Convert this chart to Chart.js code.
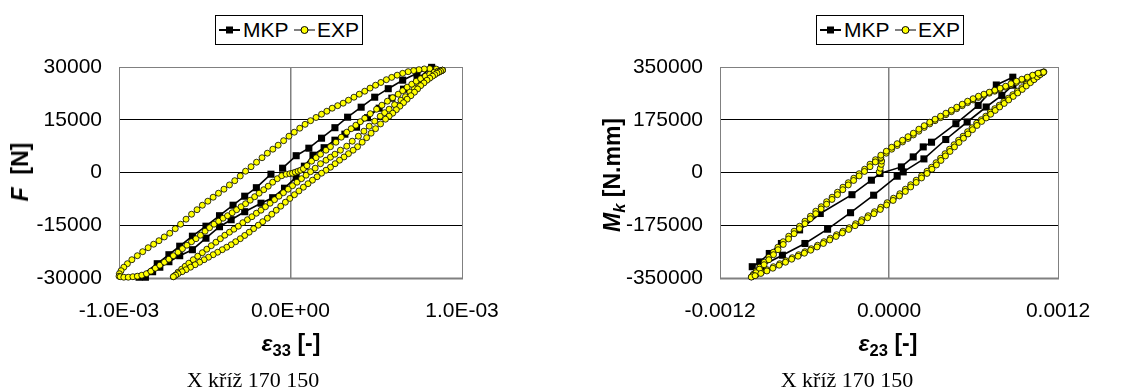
<!DOCTYPE html>
<html><head><meta charset="utf-8">
<script src="https://cdn.jsdelivr.net/npm/chart.js@4/dist/chart.umd.min.js"></script>
<style>
html,body{margin:0;padding:0;background:#fff;}
#wrap{position:relative;width:1148px;height:390px;overflow:hidden;font-family:"Liberation Sans",Arial,sans-serif;color:#000;}
canvas{position:absolute;top:0;}
.legend{position:absolute;top:15px;height:30px;border:1px solid #000;box-sizing:border-box;background:#fff;}
.legend svg{position:absolute;top:0;}
.legend span{position:absolute;top:0;line-height:28px;font-size:21px;white-space:nowrap;}
.ttl{position:absolute;font-weight:bold;font-size:23px;white-space:nowrap;line-height:26px;}
.ttl sub{font-size:0.72em;vertical-align:-0.28em;line-height:0;}
.ytl{transform:translate(-50%,-50%) rotate(-90deg);}
.xtl{transform:translate(-50%,-50%);}
.cap{position:absolute;top:369px;font-family:"Liberation Serif","Times New Roman",serif;font-size:22px;line-height:22px;white-space:nowrap;transform:translateX(-50%);}
</style></head>
<body>
<div id="wrap">
<canvas id="cL" width="574" height="390" style="left:0;width:574px;height:390px"></canvas>
<canvas id="cR" width="574" height="390" style="left:574px;width:574px;height:390px"></canvas>

<div class="legend" style="left:215px;width:148px">
 <svg width="22" height="28" style="left:3px"><line x1="0" y1="14" x2="21" y2="14" stroke="#000" stroke-width="2"/><rect x="7" y="10.5" width="7" height="7" fill="#000"/></svg>
 <span style="left:27px">MKP</span>
 <svg width="22" height="28" style="left:78px"><line x1="0" y1="14" x2="21" y2="14" stroke="#000" stroke-width="1"/><circle cx="10.5" cy="14" r="3.5" fill="#ffff00" stroke="#000" stroke-width="1"/></svg>
 <span style="left:101px">EXP</span>
</div>
<div class="legend" style="left:816px;width:148px">
 <svg width="22" height="28" style="left:3px"><line x1="0" y1="14" x2="21" y2="14" stroke="#000" stroke-width="2"/><rect x="7" y="10.5" width="7" height="7" fill="#000"/></svg>
 <span style="left:27px">MKP</span>
 <svg width="22" height="28" style="left:78px"><line x1="0" y1="14" x2="21" y2="14" stroke="#000" stroke-width="1"/><circle cx="10.5" cy="14" r="3.5" fill="#ffff00" stroke="#000" stroke-width="1"/></svg>
 <span style="left:101px">EXP</span>
</div>

<div class="ttl ytl" style="left:20px;top:172px"><i>F</i>&nbsp; [N]</div>
<div class="ttl ytl" style="left:612px;top:175px"><i>M<sub>k</sub></i> [N.mm]</div>
<div class="ttl xtl" style="left:291px;top:343px"><i>ε</i><sub>33</sub> [-]</div>
<div class="ttl xtl" style="left:888px;top:343px"><i>ε</i><sub>23</sub> [-]</div>
<div class="cap" style="left:253px">X kříž 170 150</div>
<div class="cap" style="left:847px">X kříž 170 150</div>
</div>

<script>
// ---------------- LEFT CHART DATA : strain eps33 [-], force F [N] ----------------
const leftXTicks = [-1e-3, 0, 1e-3];
const leftYTicks = [-30000, -15000, 0, 15000, 30000];

// EXP: loading from lower tip along inner lower line to the top
const leftExpRiseInner = [[-683e-6,-29634],[-671e-6,-29208],[-656e-6,-28355],[-635e-6,-27501],[-614e-6,-26648],[-593e-6,-25795],[-567e-6,-24800],[-541e-6,-23804],[-514e-6,-22809],[-488e-6,-21813],[-462e-6,-20818],[-435e-6,-19823],[-409e-6,-18827],[-383e-6,-17832],[-356e-6,-16979],[-330e-6,-16125],[-304e-6,-15272],[-278e-6,-14277],[-251e-6,-13424],[-225e-6,-12570],[-199e-6,-11575],[-172e-6,-10722],[-146e-6,-9727],[-119e-6,-8731],[-93e-6,-7736],[-67e-6,-6740],[-41e-6,-5745],[-14e-6,-4749],[12e-6,-3754],[38e-6,-2759],[64e-6,-1763],[91e-6,-768],[117e-6,228],[144e-6,1223],[175e-6,2503],[207e-6,3498],[233e-6,4351],[259e-6,5205],[291e-6,6342],[328e-6,7480],[360e-6,8902],[396e-6,10324],[428e-6,11746],[459e-6,13168],[491e-6,14590],[523e-6,16012],[549e-6,17007],[575e-6,18003],[607e-6,19282],[644e-6,20562],[670e-6,21557],[696e-6,22900],[723e-6,23900],[749e-6,24900],[775e-6,25900],[796e-6,26700],[817e-6,27300],[838e-6,27900],[854e-6,28350],[870e-6,28700],[881e-6,28952]];
// EXP: unloading along the outer upper branch down to the left tip
const leftExpUnload = [[886e-6,29094],[850e-6,29400],[812e-6,29521],[780e-6,29450],[749e-6,29236],[718e-6,28980],[686e-6,28668],[654e-6,28200],[622e-6,27672],[590e-6,27050],[559e-6,26392],[527e-6,25600],[496e-6,24828],[464e-6,24000],[433e-6,23122],[401e-6,22270],[370e-6,21415],[338e-6,20560],[307e-6,19709],[275e-6,19000],[243e-6,18287],[212e-6,17430],[181e-6,16581],[149e-6,15650],[117e-6,14732],[85e-6,13700],[54e-6,12599],[22e-6,11460],[-9e-6,10324],[-40e-6,9050],[-72e-6,7764],[-103e-6,6630],[-135e-6,5489],[-166e-6,4200],[-198e-6,2929],[-230e-6,1650],[-262e-6,370],[-293e-6,-980],[-325e-6,-2332],[-356e-6,-3540],[-388e-6,-4749],[-420e-6,-5890],[-451e-6,-7025],[-482e-6,-8160],[-514e-6,-9300],[-545e-6,-10580],[-577e-6,-11859],[-609e-6,-13280],[-641e-6,-14703],[-672e-6,-15980],[-704e-6,-17263],[-736e-6,-18330],[-767e-6,-19396],[-798e-6,-20390],[-830e-6,-21387],[-862e-6,-22520],[-893e-6,-23662],[-925e-6,-24800],[-951e-6,-25937],[-972e-6,-26933],[-988e-6,-27928],[-998e-6,-28781],[-1000e-6,-29492]];
// EXP: reloading from the left tip along inner upper line to the top
const leftExpRiseOuter = [[-993e-6,-29634],[-972e-6,-29776],[-946e-6,-29776],[-919e-6,-29634],[-893e-6,-29492],[-867e-6,-29208],[-840e-6,-28781],[-814e-6,-28070],[-788e-6,-27217],[-762e-6,-26364],[-735e-6,-25510],[-709e-6,-24657],[-683e-6,-23662],[-656e-6,-22667],[-630e-6,-21671],[-604e-6,-20676],[-577e-6,-19680],[-551e-6,-18827],[-525e-6,-17832],[-498e-6,-16694],[-472e-6,-15699],[-446e-6,-14703],[-419e-6,-13850],[-393e-6,-12997],[-367e-6,-12286],[-340e-6,-11433],[-314e-6,-10580],[-288e-6,-9727],[-262e-6,-8873],[-235e-6,-7878],[-209e-6,-6883],[-183e-6,-5887],[-156e-6,-4892],[-130e-6,-3896],[-104e-6,-2759],[-77e-6,-1763],[-51e-6,-910],[-25e-6,-483],[-4e-6,-341],[12e-6,-199],[28e-6,85],[44e-6,370],[59e-6,654],[75e-6,1081],[96e-6,1934],[123e-6,3214],[149e-6,4209],[175e-6,5205],[207e-6,6342],[233e-6,7338],[265e-6,8617],[296e-6,10039],[328e-6,11461],[354e-6,12457],[381e-6,13452],[407e-6,14447],[433e-6,15443],[465e-6,16723],[502e-6,18003],[533e-6,19140],[565e-6,20278],[596e-6,21273],[628e-6,22268],[654e-6,23264],[680e-6,24259],[707e-6,25112],[733e-6,25965],[759e-6,26676],[786e-6,27387],[812e-6,27956],[838e-6,28525],[859e-6,28810],[875e-6,28952],[886e-6,29094]];
// EXP: outer lower branch (listed from lower tip to top tip)
const leftExpOuterLower = [[-683e-6,-29634],[-670e-6,-29200],[-656e-6,-28781],[-632e-6,-28210],[-609e-6,-27644],[-583e-6,-26930],[-556e-6,-26222],[-530e-6,-25510],[-504e-6,-24800],[-478e-6,-24090],[-451e-6,-23378],[-425e-6,-22670],[-398e-6,-21956],[-372e-6,-21250],[-346e-6,-20534],[-320e-6,-19680],[-293e-6,-18827],[-267e-6,-17900],[-241e-6,-16979],[-215e-6,-15980],[-188e-6,-14988],[-162e-6,-13990],[-135e-6,-12997],[-109e-6,-11860],[-83e-6,-10722],[-57e-6,-9580],[-30e-6,-8447],[-4e-6,-7380],[23e-6,-6314],[49e-6,-5250],[75e-6,-4181],[102e-6,-3190],[128e-6,-2190],[155e-6,-1200],[181e-6,-199],[207e-6,650],[233e-6,1507],[260e-6,2500],[286e-6,3498],[312e-6,4420],[338e-6,5347],[365e-6,6340],[391e-6,7338],[418e-6,8620],[444e-6,9897],[470e-6,11180],[496e-6,12457],[525e-6,13810],[554e-6,15159],[575e-6,16010],[596e-6,16865],[617e-6,17860],[638e-6,18856],[659e-6,19850],[680e-6,20847],[702e-6,21840],[723e-6,22837],[741e-6,23760],[759e-6,24686],[778e-6,25470],[796e-6,26250],[812e-6,26820],[828e-6,27388],[841e-6,27810],[854e-6,28241],[865e-6,28530],[875e-6,28810],[886e-6,29094]];

// MKP (FEM)
const leftMkpRise1 = [[-46e-6,1223],[33e-6,4778],[107e-6,6911],[181e-6,9755],[259e-6,12741],[333e-6,15727],[412e-6,18571],[491e-6,21415],[570e-6,23833],[654e-6,26250],[738e-6,28241],[823e-6,29900]];
const leftMkpFall = [[738e-6,26534],[659e-6,23691],[591e-6,21131],[517e-6,18287],[449e-6,15585],[385e-6,12883],[317e-6,10893],[259e-6,9186],[196e-6,7053],[131e-6,4920],[81e-6,1792],[33e-6,-1337],[-35e-6,-4465],[-104e-6,-7167],[-172e-6,-8731],[-267e-6,-11148],[-346e-6,-13424],[-414e-6,-15415],[-493e-6,-18685],[-572e-6,-21956],[-646e-6,-23662],[-709e-6,-25368],[-762e-6,-26933],[-804e-6,-28213],[-846e-6,-29777],[-883e-6,-29777]];
const leftMkpRise2 = [[-777e-6,-25937],[-709e-6,-23378],[-646e-6,-20960],[-572e-6,-18116],[-493e-6,-15272],[-414e-6,-12286],[-335e-6,-9300],[-267e-6,-6740],[-199e-6,-4323],[-114e-6,-483]];

// ---------------- RIGHT CHART DATA : strain eps23 [-], torque Mk [N.mm] ----------------
const rightXTicks = [-0.0012, 0, 0.0012];
const rightYTicks = [-350000, -175000, 0, 175000, 350000];

const rightExpStart = [[-70e-6,1500],[-62e-6,14000],[-55e-6,27000],[-52e-6,38000],[-60e-6,47000]];
const rightExpDown1Bottom = [[-96e-6,42464],[-135e-6,27535],[-173e-6,10948],[-212e-6,-3981],[-250e-6,-18910],[-289e-6,-33839],[-327e-6,-48768],[-366e-6,-65356],[-404e-6,-81943],[-443e-6,-96871],[-481e-6,-113459],[-520e-6,-128388],[-558e-6,-144975],[-597e-6,-161563],[-635e-6,-178150],[-674e-6,-194738],[-712e-6,-211325],[-751e-6,-229571],[-789e-6,-247818],[-821e-6,-264405],[-853e-6,-280993],[-886e-6,-297580],[-918e-6,-314168],[-943e-6,-327438],[-963e-6,-337390],[-975e-6,-345684]];
const rightExpUp1 = [[-975e-6,-345684],[-943e-6,-339049],[-905e-6,-330756],[-866e-6,-322462],[-821e-6,-312509],[-776e-6,-302557],[-732e-6,-292604],[-687e-6,-282652],[-642e-6,-272699],[-597e-6,-262747],[-552e-6,-252794],[-507e-6,-241183],[-462e-6,-229571],[-417e-6,-217960],[-372e-6,-206349],[-327e-6,-194737],[-282e-6,-183126],[-237e-6,-169856],[-193e-6,-156586],[-148e-6,-143316],[-103e-6,-130046],[-58e-6,-115117],[-13e-6,-100189],[32e-6,-85260],[77e-6,-70331],[116e-6,-55403],[154e-6,-40474],[193e-6,-25545],[231e-6,-10616],[270e-6,4313],[302e-6,17583],[334e-6,32511],[366e-6,47440],[398e-6,62369],[430e-6,77298],[462e-6,92226],[494e-6,107155],[526e-6,120425],[558e-6,135353],[590e-6,148623],[622e-6,163552],[655e-6,175163],[687e-6,186775],[719e-6,200045],[751e-6,211657],[783e-6,223268],[815e-6,234880],[847e-6,246491],[879e-6,258103],[911e-6,269714],[943e-6,281326],[975e-6,292938],[1007e-6,302890],[1033e-6,312843],[1059e-6,321137],[1078e-6,327772],[1097e-6,332745]];
const rightExpDown2 = [[1080e-6,331000],[1050e-6,326100],[1016e-6,319500],[982e-6,312800],[943e-6,306200],[905e-6,298700],[866e-6,290400],[828e-6,283000],[789e-6,276300],[751e-6,269700],[712e-6,263100],[674e-6,256400],[635e-6,249000],[597e-6,240700],[558e-6,231600],[520e-6,221600],[481e-6,211700],[443e-6,201700],[404e-6,191800],[366e-6,181800],[327e-6,171800],[289e-6,161100],[250e-6,149500],[212e-6,137000],[173e-6,124600],[135e-6,113000],[96e-6,101300],[58e-6,89700],[19e-6,77300],[-20e-6,64000],[-58e-6,49900],[-97e-6,35000],[-135e-6,19200],[-174e-6,3500],[-212e-6,-11400],[-251e-6,-26400],[-289e-6,-41300],[-328e-6,-57100],[-366e-6,-73600],[-405e-6,-89400],[-443e-6,-105200],[-482e-6,-120900],[-520e-6,-136700],[-559e-6,-153300],[-597e-6,-169900],[-636e-6,-186400],[-674e-6,-203000],[-713e-6,-220400],[-751e-6,-238700],[-788e-6,-256100],[-820e-6,-272700],[-853e-6,-289300],[-887e-6,-305900],[-920e-6,-320800],[-945e-6,-332400],[-965e-6,-341500],[-978e-6,-347000]];
const rightExpUp2 = [[-951e-6,-342400],[-910e-6,-334900],[-867e-6,-326600],[-825e-6,-317500],[-780e-6,-307500],[-735e-6,-297600],[-691e-6,-287600],[-646e-6,-277700],[-601e-6,-267700],[-556e-6,-257800],[-511e-6,-247000],[-466e-6,-235400],[-421e-6,-223800],[-376e-6,-212200],[-331e-6,-200500],[-286e-6,-188900],[-241e-6,-176500],[-196e-6,-163200],[-152e-6,-150000],[-107e-6,-136700],[-62e-6,-122600],[-17e-6,-107700],[29e-6,-92700],[74e-6,-77800],[116e-6,-62900],[154e-6,-47900],[193e-6,-33000],[231e-6,-18100],[270e-6,-3200],[305e-6,10900],[337e-6,25000],[369e-6,40000],[401e-6,54900],[433e-6,69800],[465e-6,84800],[497e-6,99700],[529e-6,113800],[561e-6,127900],[593e-6,142000],[625e-6,156100],[658e-6,169400],[690e-6,181000],[722e-6,193400],[754e-6,205900],[786e-6,217500],[818e-6,229100],[850e-6,240700],[882e-6,252300],[914e-6,263900],[946e-6,275500],[975e-6,287100],[1004e-6,297900],[1030e-6,307900],[1053e-6,317000],[1073e-6,324500],[1090e-6,330300],[1100e-6,334000]];
const rightExpDown1Top = [[1097e-6,332745],[1059e-6,329428],[1020e-6,322793],[982e-6,316158],[943e-6,309523],[905e-6,302888],[866e-6,294594],[828e-6,286300],[789e-6,279665],[751e-6,273030],[712e-6,266395],[674e-6,259760],[635e-6,253125],[597e-6,244831],[558e-6,236538],[520e-6,226585],[481e-6,216632],[443e-6,206680],[404e-6,196727],[366e-6,186775],[327e-6,176822],[289e-6,166870],[250e-6,155258],[212e-6,143647],[173e-6,130377],[135e-6,118766],[96e-6,107154],[58e-6,95543],[19e-6,83932],[-19e-6,70662],[-58e-6,57392]];

const rightMkpUpperLow = [[-971e-6,-312509],[-918e-6,-296585],[-850e-6,-268718],[-764e-6,-235543],[-635e-6,-190425],[-488e-6,-136018],[-263e-6,-73649],[-125e-6,-25545],[-64e-6,-3318]];
const rightMkpUpperHigh = [[88e-6,18578],[172e-6,51753],[243e-6,84928],[302e-6,100520],[475e-6,161894],[633e-6,222604],[762e-6,290281],[879e-6,316158]];
const rightMkpLower = [[880e-6,289620],[801e-6,255779],[690e-6,217296],[555e-6,167534],[403e-6,109478],[248e-6,45118],[101e-6,1991],[58e-6,-12275],[-109e-6,-75292],[-273e-6,-133364],[-436e-6,-188103],[-597e-6,-235543],[-757e-6,-274357],[-911e-6,-310850]];

// ---------------- chart construction ----------------
const toXY = arr => arr.map(p => ({x: p[0], y: p[1]}));
const FONT = {family: '"Liberation Sans", Arial, sans-serif', size: 21};

function sciLabel(v) {
  const s = Number(v).toExponential(1);
  const parts = s.split('e');
  const e = parseInt(parts[1], 10);
  return parts[0] + 'E' + (e < 0 ? '-' : '+') + String(Math.abs(e)).padStart(2, '0');
}

const framePlugin = {
  id: 'frame',
  beforeDatasetsDraw(chart) {
    const {ctx, chartArea: a} = chart;
    ctx.save();
    ctx.strokeStyle = '#808080';
    ctx.lineWidth = 1;
    ctx.strokeRect(Math.round(a.left) + 0.5, Math.round(a.top) + 0.5, Math.round(a.right - a.left), Math.round(a.bottom - a.top));
    ctx.lineWidth = 2;
    ctx.beginPath();
    ctx.moveTo(a.left, Math.round(a.bottom) + 0.5);
    ctx.lineTo(a.right + 1, Math.round(a.bottom) + 0.5);
    ctx.stroke();
    ctx.restore();
  }
};

function makeChart(id, cfg) {
  const xs = cfg.xTicks, ys = cfg.yTicks;
  return new Chart(document.getElementById(id), {
    type: 'scatter',
    data: {
      datasets: [
        {label: 'MKP', data: toXY(cfg.mkp), showLine: true, borderColor: '#000', borderWidth: 1.6,
         pointStyle: 'rect', pointRadius: 5, pointBackgroundColor: '#000', pointBorderColor: '#000', pointBorderWidth: 0,
         order: 2, clip: false},
        {label: 'EXP', data: toXY(cfg.exp), showLine: true, borderColor: '#000', borderWidth: 0.9,
         pointStyle: 'circle', pointRadius: 3, pointBackgroundColor: '#ffff00', pointBorderColor: '#000', pointBorderWidth: 0.8,
         order: 1, clip: false}
      ]
    },
    options: {
      responsive: false, animation: false, devicePixelRatio: 1, events: [],
      layout: {padding: {left: 0, top: 67, right: cfg.padRight, bottom: 0}},
      plugins: {legend: {display: false}, tooltip: {enabled: false}},
      scales: {
        x: {
          type: 'linear', min: xs[0], max: xs[xs.length - 1],
          ticks: {stepSize: xs[1] - xs[0], callback: cfg.xFmt, font: FONT, color: '#000', padding: 21, maxRotation: 0, autoSkip: false},
          grid: {drawTicks: false, lineWidth: 1.5, color: c => Math.abs(c.tick.value) < 1e-12 ? '#808080' : 'rgba(0,0,0,0)'},
          border: {display: false},
          afterFit: s => { s.height = 112; s.paddingLeft = 0; s.paddingRight = 0; s.paddingTop = 0; s.paddingBottom = 0; }
        },
        y: {
          type: 'linear', min: ys[0], max: ys[ys.length - 1],
          ticks: {stepSize: ys[1] - ys[0], callback: v => String(v), font: FONT, color: '#000', padding: cfg.yPad, autoSkip: false},
          grid: {drawTicks: false, lineWidth: 1, color: c => (c.tick.value === ys[0] || c.tick.value === ys[ys.length - 1]) ? 'rgba(0,0,0,0)' : '#000'},
          border: {display: false},
          afterFit: s => { s.width = cfg.yWidth; s.paddingLeft = 0; s.paddingRight = 0; s.paddingTop = 0; s.paddingBottom = 0; }
        }
      }
    },
    plugins: [framePlugin]
  });
}

makeChart('cL', {
  xTicks: leftXTicks, yTicks: leftYTicks, xFmt: sciLabel,
  yWidth: 119, yPad: 17, padRight: 112,
  mkp: [].concat(leftMkpRise1, leftMkpFall, leftMkpRise2),
  exp: [].concat(leftExpRiseInner, leftExpUnload, leftExpRiseOuter, leftExpOuterLower.slice().reverse())
});

makeChart('cR', {
  xTicks: rightXTicks, yTicks: rightYTicks, xFmt: v => Number(v).toFixed(4),
  yWidth: 146, yPad: 17, padRight: 90,
  mkp: [].concat(rightMkpUpperLow, rightMkpUpperHigh, rightMkpLower),
  exp: [].concat(rightExpStart, rightExpDown1Bottom, rightExpUp1, rightExpDown2, rightExpUp2, rightExpDown1Top)
});
</script>
</body></html>
